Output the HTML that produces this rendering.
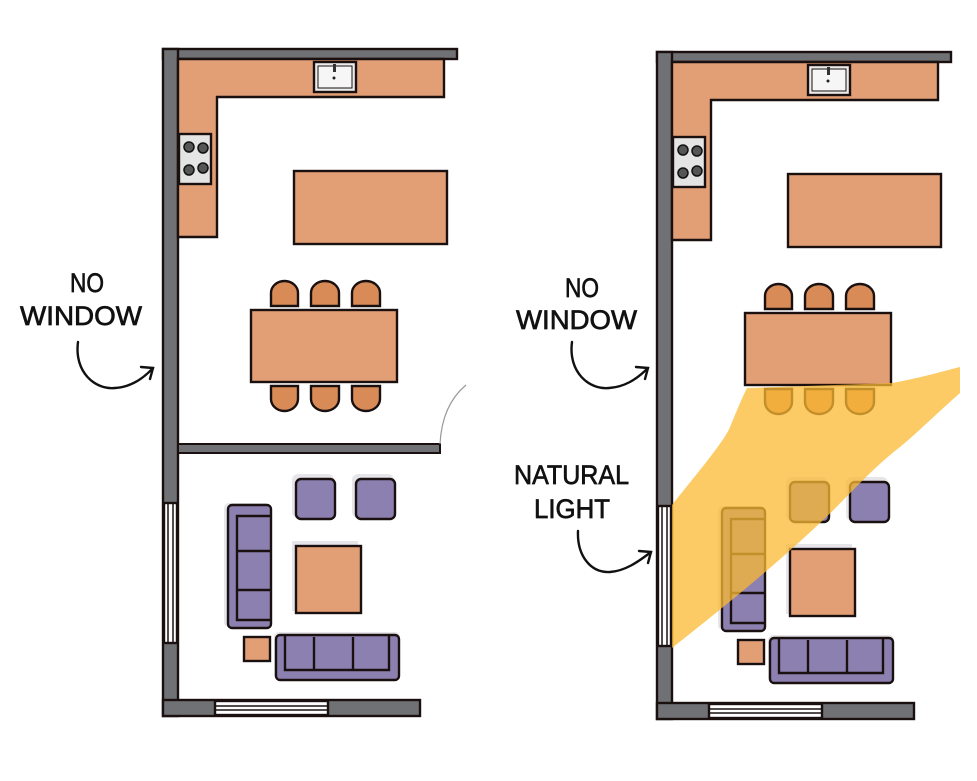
<!DOCTYPE html>
<html><head><meta charset="utf-8"><style>
html,body{margin:0;padding:0;background:#fff;}
svg{display:block}
text{font-family:"Liberation Sans",sans-serif;fill:#111;stroke:#111;stroke-width:0.7;}
</style></head><body>
<svg width="977" height="781" viewBox="0 0 977 781" xmlns="http://www.w3.org/2000/svg">
<defs>
<g id="plan" stroke="#1a1010" stroke-width="2.4">
  <rect x="163" y="49" width="294" height="10" fill="#707174"/>
  <rect x="163" y="49" width="15" height="667" fill="#707174"/>
  <rect x="163" y="700" width="257" height="16" fill="#707174"/>
  <rect x="164" y="503" width="13" height="140" fill="#fff"/>
  <line x1="168" y1="503" x2="168" y2="643" stroke-width="1.5"/>
  <line x1="173" y1="503" x2="173" y2="643" stroke-width="1.5"/>
  <rect x="215" y="701" width="113" height="14" fill="#fff"/>
  <line x1="215" y1="706" x2="328" y2="706" stroke-width="1.5"/>
  <line x1="215" y1="710" x2="328" y2="710" stroke-width="1.5"/>
  <path d="M178 59 H444 V97 H217 V237 H178 Z" fill="#e29f75"/>
  <rect x="314" y="62" width="42" height="30" fill="#ececec"/>
  <rect x="318" y="66" width="34" height="22" fill="#f6f6f6" stroke-width="1"/>
  <rect x="333" y="64" width="3" height="8" fill="#333" stroke="none"/>
  <circle cx="334" cy="78" r="1.5" fill="#222" stroke="none"/>
  <rect x="179" y="134" width="32" height="50" fill="#e4e4e4"/>
  <g fill="#555" stroke="#111" stroke-width="1.5">
    <circle cx="189" cy="147" r="5"/><circle cx="203" cy="148" r="5"/>
    <circle cx="189" cy="170" r="5"/><circle cx="203" cy="168" r="5"/>
  </g>
  <rect x="294" y="171" width="153" height="73" fill="#e29f75"/>
  <g fill="#d88b57">
    <path d="M271 306 V293 A13.5 12 0 0 1 298 293 V306 Z"/>
    <path d="M311 306 V293 A14 12 0 0 1 339 293 V306 Z"/>
    <path d="M352 306 V293 A14 12 0 0 1 380 293 V306 Z"/>
    <path d="M271 386 V399 A13.5 12 0 0 0 298 399 V386 Z"/>
    <path d="M311 386 V399 A14 12 0 0 0 339 399 V386 Z"/>
    <path d="M352 386 V399 A14 12 0 0 0 380 399 V386 Z"/>
  </g>
  <rect x="251" y="310" width="146" height="72" fill="#e29f75"/>
  <g fill="#e6e6ea" stroke="none">
    <rect x="292" y="474" width="42" height="44" rx="6"/>
    <rect x="352" y="474" width="42" height="44" rx="6"/>
    <rect x="224" y="503" width="46" height="124" rx="5"/>
    <rect x="292" y="541" width="66" height="70"/>
    <rect x="274" y="632" width="126" height="48" rx="5"/>
  </g>
  <g fill="#8c80b0">
    <rect x="296" y="479" width="39" height="40" rx="5"/>
    <rect x="356" y="479" width="39" height="40" rx="5"/>
    <rect x="228" y="505" width="43" height="123" rx="4"/>
    <path d="M271 516 H237 V620 H271" fill="none"/>
    <line x1="237" y1="551" x2="271" y2="551"/>
    <line x1="237" y1="590" x2="271" y2="590"/>
    <rect x="276" y="635" width="123" height="45" rx="4"/>
    <path d="M285 635 V670 H389 V635" fill="none"/>
    <line x1="314" y1="637" x2="314" y2="670"/>
    <line x1="353" y1="637" x2="353" y2="670"/>
  </g>
  <rect x="296" y="546" width="65" height="67" fill="#e29f75"/>
  <rect x="244" y="637" width="26" height="24" fill="#e29f75"/>
</g>
</defs>

<use href="#plan"/>
<rect x="178" y="444" width="262" height="9" fill="#707174" stroke="#1a1010" stroke-width="2"/>
<path d="M440 444 Q442 405 466 385" fill="none" stroke="#999" stroke-width="1.2"/>

<g transform="translate(494,3)"><use href="#plan"/></g>

<path d="M672 505 C700 470 725 440 730 427 C737 410 742 398 747 388 L892 383 C920 378 940 372 960 367 L960 393 C935 415 915 435 900 447 C870 470 845 500 820 523 C770 570 720 610 672 648 Z" fill="#fbb933" fill-opacity="0.75"/>

<g font-size="27">
  <text x="70" y="292" textLength="34" lengthAdjust="spacingAndGlyphs">NO</text>
  <text x="20" y="325" textLength="122" lengthAdjust="spacingAndGlyphs">WINDOW</text>
  <text x="565" y="297" textLength="34" lengthAdjust="spacingAndGlyphs">NO</text>
  <text x="516" y="329" textLength="121" lengthAdjust="spacingAndGlyphs">WINDOW</text>
  <text x="514" y="484" textLength="115" lengthAdjust="spacingAndGlyphs">NATURAL</text>
  <text x="534" y="518" textLength="76" lengthAdjust="spacingAndGlyphs">LIGHT</text>
</g>
<g fill="none" stroke="#111" stroke-width="2.4" stroke-linecap="round">
  <path d="M78 342 C74 372 95 390 115 388 C130 387 142 380 153 368"/>
  <path d="M141 367 L153 368 L150 379"/>
  <path d="M572 342 C568 372 589 390 609 388 C624 387 636 380 648 368"/>
  <path d="M636 367 L648 368 L645 379"/>
  <path d="M578 531 C577 555 590 573 610 572 C625 571 638 562 651 552"/>
  <path d="M639 551 L651 552 L648 563"/>
</g>
</svg>
</body></html>
